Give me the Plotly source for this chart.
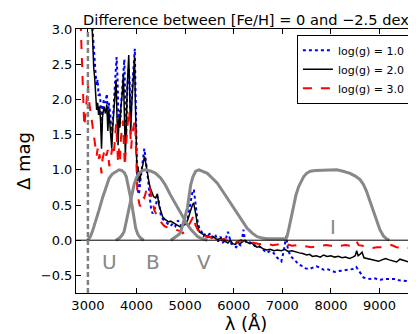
import plotly.graph_objects as go

# Delta mag between [Fe/H]=0 and -2.5 as (lambda, dmag)
dmag_logg1 = [
    (3085, 3.1), (3100, 2.9), (3120, 2.7), (3140, 2.55), (3160, 2.35), (3180, 2.2),
    (3200, 2.28), (3220, 2.05), (3240, 2.1), (3260, 1.95), (3280, 1.55), (3300, 1.9),
    (3330, 2.0), (3360, 1.95), (3390, 2.08), (3410, 1.75), (3430, 1.95), (3460, 1.8),
    (3490, 1.45), (3520, 1.85), (3550, 2.1), (3590, 2.6), (3610, 2.3), (3630, 1.6),
    (3650, 1.85), (3670, 1.75), (3690, 2.0), (3720, 2.25), (3750, 2.57), (3770, 1.9),
    (3790, 1.5), (3810, 2.15), (3840, 2.45), (3860, 2.25), (3880, 1.7), (3900, 2.05),
    (3920, 2.3), (3940, 2.5), (3965, 2.72), (3980, 2.1), (3995, 1.3), (4010, 1.0),
    (4030, 0.7), (4050, 0.65), (4080, 0.85), (4110, 1.05), (4140, 1.2), (4160, 1.3),
    (4180, 1.2), (4210, 1.05), (4240, 0.85), (4270, 0.62), (4300, 0.45), (4330, 0.38),
    (4360, 0.42), (4400, 0.5), (4430, 0.62), (4460, 0.55), (4500, 0.35), (4540, 0.3),
    (4580, 0.28), (4620, 0.25), (4660, 0.22), (4700, 0.2), (4750, 0.24), (4800, 0.2),
    (4850, 0.28), (4900, 0.22), (4950, 0.2), (5000, 0.24), (5050, 0.3), (5090, 0.48),
    (5120, 0.6), (5150, 0.68), (5180, 0.72), (5205, 0.55), (5230, 0.35), (5260, 0.25),
    (5300, 0.15), (5340, 0.12), (5380, 0.06), (5430, 0.1), (5480, 0.08), (5530, 0.1),
    (5580, 0.02), (5630, 0.06), (5680, -0.02), (5730, 0.05), (5780, -0.03), (5830, 0.0),
    (5880, 0.12), (5910, 0.05), (5950, -0.05), (6000, -0.07), (6050, -0.1), (6100, -0.05),
    (6150, -0.08), (6200, 0.15), (6230, 0.0), (6280, -0.05), (6330, -0.03), (6380, -0.04),
    (6430, -0.08), (6480, -0.06), (6550, -0.1), (6620, -0.14), (6680, -0.18), (6750, -0.15),
    (6820, -0.18), (6880, -0.24), (6940, -0.28), (6980, -0.3), (7030, -0.15), (7080, 0.06),
    (7110, -0.1), (7160, -0.22), (7220, -0.26), (7280, -0.3), (7350, -0.35), (7420, -0.37),
    (7480, -0.4), (7550, -0.41), (7620, -0.39), (7700, -0.37), (7780, -0.39), (7850, -0.42),
    (7920, -0.41), (8000, -0.43), (8080, -0.45), (8150, -0.44), (8230, -0.43), (8300, -0.42),
    (8380, -0.42), (8450, -0.41), (8520, -0.38), (8560, -0.42), (8620, -0.48), (8670, -0.53),
    (8730, -0.54), (8800, -0.55), (8880, -0.54), (8950, -0.55), (9020, -0.56), (9100, -0.55),
    (9180, -0.55), (9250, -0.56), (9320, -0.55), (9400, -0.57), (9480, -0.58), (9550, -0.58),
    (9620, -0.6), (9680, -0.58), (9720, -0.6),
]

dmag_logg2 = [
    (3080, 3.15), (3100, 2.75), (3120, 2.45), (3140, 2.3), (3160, 2.05), (3180, 1.85),
    (3200, 1.95), (3220, 1.78), (3240, 1.9), (3260, 1.7), (3280, 1.3), (3300, 1.75),
    (3330, 1.9), (3360, 1.8), (3390, 1.93), (3410, 1.55), (3430, 1.85), (3460, 1.6),
    (3490, 1.3), (3520, 1.7), (3550, 1.95), (3580, 2.28), (3600, 1.7), (3620, 1.35),
    (3640, 1.75), (3660, 1.6), (3680, 1.9), (3710, 2.1), (3730, 2.37), (3750, 1.8),
    (3770, 1.2), (3790, 1.6), (3810, 2.2), (3840, 2.63), (3860, 2.1), (3880, 1.5),
    (3900, 1.9), (3920, 2.2), (3940, 2.35), (3960, 2.6), (3975, 2.0), (3990, 1.2),
    (4010, 0.95), (4030, 1.05), (4060, 0.82), (4080, 0.9), (4110, 1.0), (4140, 1.1),
    (4165, 1.19), (4190, 1.1), (4220, 0.95), (4250, 0.85), (4280, 0.75), (4310, 0.68),
    (4350, 0.62), (4390, 0.6), (4430, 0.66), (4460, 0.5), (4500, 0.42), (4540, 0.33),
    (4580, 0.3), (4620, 0.28), (4660, 0.26), (4700, 0.27), (4750, 0.25), (4800, 0.22),
    (4850, 0.2), (4900, 0.19), (4950, 0.21), (5000, 0.22), (5050, 0.28), (5090, 0.38),
    (5120, 0.46), (5150, 0.5), (5175, 0.53), (5200, 0.45), (5225, 0.35), (5250, 0.22),
    (5290, 0.12), (5330, 0.1), (5380, 0.08), (5430, 0.06), (5480, 0.06), (5530, 0.04),
    (5580, 0.05), (5630, 0.02), (5680, 0.01), (5730, 0.03), (5780, 0.0), (5830, -0.02),
    (5880, -0.04), (5930, 0.0), (5980, -0.05), (6030, -0.06), (6080, -0.03), (6130, -0.05),
    (6180, -0.02), (6230, 0.0), (6280, -0.03), (6330, -0.05), (6380, -0.04), (6430, -0.08),
    (6480, -0.1), (6530, -0.09), (6600, -0.12), (6680, -0.14), (6750, -0.13), (6830, -0.15),
    (6900, -0.14), (6980, -0.15), (7050, -0.13), (7120, -0.16), (7200, -0.15), (7280, -0.17),
    (7350, -0.18), (7420, -0.19), (7500, -0.21), (7560, -0.2), (7620, -0.23), (7700, -0.22),
    (7780, -0.24), (7850, -0.21), (7920, -0.23), (8000, -0.22), (8080, -0.24), (8150, -0.23),
    (8230, -0.25), (8300, -0.24), (8380, -0.26), (8450, -0.24), (8500, -0.22), (8530, -0.15),
    (8560, -0.22), (8600, -0.2), (8640, -0.17), (8680, -0.25), (8750, -0.26), (8820, -0.28),
    (8900, -0.29), (8980, -0.3), (9050, -0.28), (9120, -0.26), (9200, -0.28), (9280, -0.3),
    (9350, -0.31), (9420, -0.27), (9500, -0.29), (9580, -0.3), (9650, -0.32), (9720, -0.31),
]

dmag_logg3 = [
    (2850, 3.1), (2865, 2.7), (2880, 2.3), (2895, 2.05), (2910, 1.9), (2925, 1.62),
    (2940, 1.7), (2960, 1.85), (2980, 2.05), (3000, 2.2), (3020, 2.0), (3040, 1.85),
    (3060, 1.78), (3080, 1.7), (3100, 1.55), (3120, 1.5), (3140, 1.4), (3160, 1.25),
    (3180, 1.2), (3200, 1.3), (3220, 1.15), (3240, 1.22), (3260, 1.05), (3280, 0.95),
    (3300, 1.15), (3320, 1.2), (3350, 1.3), (3380, 1.2), (3410, 1.28), (3440, 1.05),
    (3470, 1.15), (3500, 1.3), (3530, 1.2), (3560, 1.5), (3580, 1.65), (3600, 1.4),
    (3620, 1.1), (3640, 1.3), (3660, 1.15), (3680, 1.45), (3700, 1.6), (3720, 1.7),
    (3740, 1.35), (3760, 1.05), (3780, 1.3), (3800, 1.55), (3830, 1.75), (3850, 1.85),
    (3870, 1.6), (3890, 1.3), (3910, 1.5), (3930, 1.6), (3950, 1.65), (3970, 1.7),
    (3985, 1.3), (4000, 0.85), (4020, 0.62), (4040, 0.58), (4070, 0.48), (4100, 0.55),
    (4130, 0.62), (4160, 0.6), (4190, 0.68), (4220, 0.75), (4250, 0.78), (4280, 0.72),
    (4310, 0.6), (4340, 0.5), (4370, 0.42), (4400, 0.38), (4440, 0.34), (4480, 0.28),
    (4520, 0.24), (4560, 0.21), (4600, 0.19), (4650, 0.18), (4700, 0.17), (4750, 0.16),
    (4800, 0.15), (4850, 0.14), (4900, 0.13), (4950, 0.1), (5000, 0.12), (5050, 0.18),
    (5100, 0.25), (5150, 0.3), (5180, 0.35), (5210, 0.22), (5250, 0.16), (5300, 0.09),
    (5350, 0.06), (5400, 0.07), (5450, 0.04), (5500, 0.05), (5550, 0.03), (5600, 0.04),
    (5650, 0.02), (5700, 0.03), (5750, 0.0), (5800, 0.02), (5850, -0.01), (5900, 0.01),
    (5950, -0.02), (6000, -0.01), (6050, -0.03), (6100, -0.02), (6150, 0.0), (6200, -0.02),
    (6250, -0.03), (6300, -0.02), (6400, -0.04), (6500, -0.05), (6600, -0.06), (6700, -0.05),
    (6800, -0.07), (6900, -0.06), (7000, -0.07), (7100, -0.06), (7200, -0.08), (7300, -0.07),
    (7400, -0.08), (7500, -0.09), (7600, -0.1), (7700, -0.09), (7800, -0.08), (7900, -0.07),
    (8000, -0.08), (8100, -0.07), (8200, -0.08), (8300, -0.07), (8400, -0.08), (8480, -0.07),
    (8530, -0.02), (8570, -0.07), (8650, -0.08), (8750, -0.1), (8850, -0.11), (8950, -0.1),
    (9050, -0.1), (9150, -0.08), (9250, -0.07), (9350, -0.1), (9450, -0.11), (9550, -0.1),
    (9650, -0.12), (9720, -0.12),
]

# normalised filter transmission curves
filt_U = [
    (2990, 0.0), (3050, 0.05), (3100, 0.14), (3164, 0.27), (3230, 0.43), (3300, 0.6),
    (3370, 0.76), (3437, 0.88), (3500, 0.94), (3580, 0.98), (3641, 1.0), (3700, 0.99),
    (3750, 0.96), (3790, 0.9), (3846, 0.74), (3880, 0.6), (3915, 0.46), (3950, 0.3),
    (3983, 0.17), (4030, 0.08), (4085, 0.03), (4150, 0.0),
]
filt_B = [
    (3573, 0.0), (3650, 0.03), (3700, 0.07), (3744, 0.12), (3800, 0.3), (3846, 0.46),
    (3900, 0.65), (3949, 0.79), (4000, 0.89), (4051, 0.95), (4120, 0.99), (4188, 1.0),
    (4300, 0.98), (4393, 0.95), (4500, 0.88), (4597, 0.78), (4700, 0.64), (4843, 0.46),
    (4950, 0.33), (5048, 0.22), (5120, 0.15), (5185, 0.1), (5260, 0.05), (5320, 0.03),
    (5400, 0.01), (5458, 0.0),
]
filt_V = [
    (4706, 0.0), (4800, 0.04), (4870, 0.08), (4911, 0.12), (4980, 0.28), (5048, 0.46),
    (5080, 0.62), (5116, 0.79), (5160, 0.9), (5218, 0.98), (5287, 1.0), (5370, 0.98),
    (5458, 0.95), (5560, 0.88), (5662, 0.81), (5760, 0.71), (5867, 0.6), (5970, 0.49),
    (6072, 0.38), (6175, 0.27), (6277, 0.17), (6380, 0.1), (6482, 0.05), (6586, 0.03),
    (6686, 0.02), (6800, 0.02), (6900, 0.02), (7030, 0.02), (7060, 0.0),
]
filt_I = [
    (7050, 0.0), (7096, 0.05), (7130, 0.15), (7164, 0.27), (7200, 0.39), (7232, 0.5),
    (7280, 0.64), (7335, 0.76), (7390, 0.85), (7437, 0.9), (7500, 0.95), (7574, 0.98),
    (7680, 0.99), (7778, 0.99), (7950, 1.0), (8120, 1.0), (8250, 0.98), (8393, 0.95),
    (8500, 0.91), (8598, 0.86), (8670, 0.79), (8734, 0.69), (8800, 0.56), (8871, 0.41),
    (8940, 0.27), (9007, 0.15), (9080, 0.06), (9144, 0.02), (9200, 0.0),
]

filter_names = ["U", "B", "V", "I"]
filter_label_pos = [(3450, -0.31), (4330, -0.31), (5390, -0.31), (8050, 0.19)]

FONT = "DejaVu Sans"

fig = go.Figure()

series = [
    (dmag_logg1, "log(g) = 1.0", "blue", "dot", 2),
    (dmag_logg2, "log(g) = 2.0", "black", "solid", 1.5),
    (dmag_logg3, "log(g) = 3.0", "red", "dash", 2),
]
for pts, name, col, dash, w in series:
    x, y = zip(*pts)
    fig.add_trace(go.Scatter(x=x, y=y, mode="lines", name=name,
                             line=dict(color=col, dash=dash, width=w)))

for pts in [filt_U, filt_B, filt_V, filt_I]:
    x, y = zip(*pts)
    fig.add_trace(go.Scatter(x=x, y=y, mode="lines", showlegend=False,
                             line=dict(color="#888888", width=3)))

for name, (lx, ly) in zip(filter_names, filter_label_pos):
    fig.add_annotation(x=lx, y=ly, text=name, showarrow=False,
                       font=dict(family=FONT, size=20, color="#888888"))

# zero line and the 3000 A marker
fig.add_shape(type="line", xref="paper", x0=0, x1=1, y0=0, y1=0,
              line=dict(color="black", width=1))
fig.add_shape(type="line", yref="paper", x0=3000, x1=3000, y0=0, y1=1,
              line=dict(color="#808080", width=2.5, dash="5px,3px"))

axis_style = dict(showline=True, linecolor="black", linewidth=1, mirror="ticks",
                  ticks="inside", ticklen=5, tickcolor="black", showgrid=False,
                  zeroline=False, tickfont=dict(family=FONT, size=13, color="black"))

fig.update_xaxes(range=[2755, 9750], tickvals=[3000, 4000, 5000, 6000, 7000, 8000, 9000],
                 tickformat="d",
                 title=dict(text="λ (Å)", font=dict(family=FONT, size=18, color="black"),
                            standoff=5),
                 **axis_style)
fig.update_yaxes(range=[-0.75, 3.0], dtick=0.5, tickformat=".1f",
                 title=dict(text="Δ mag", font=dict(family=FONT, size=18, color="black"),
                            standoff=5),
                 **axis_style)

fig.update_layout(
    width=416, height=334,
    margin=dict(l=68, r=8, t=21, b=49),
    plot_bgcolor="white", paper_bgcolor="white",
    font=dict(family=FONT, color="black"),
    title=dict(text="Difference between [Fe/H] = 0 and −2.5 dex",
               font=dict(family=FONT, size=14.6, color="black"),
               x=0.572, xanchor="center", y=0.965, yanchor="middle"),
    legend=dict(x=0.985, y=0.978, xanchor="right", yanchor="top",
                bgcolor="white", bordercolor="black", borderwidth=1,
                font=dict(family=FONT, size=11, color="black"),
                itemwidth=30, tracegroupgap=0),
)

fig.write_html("out.html")
